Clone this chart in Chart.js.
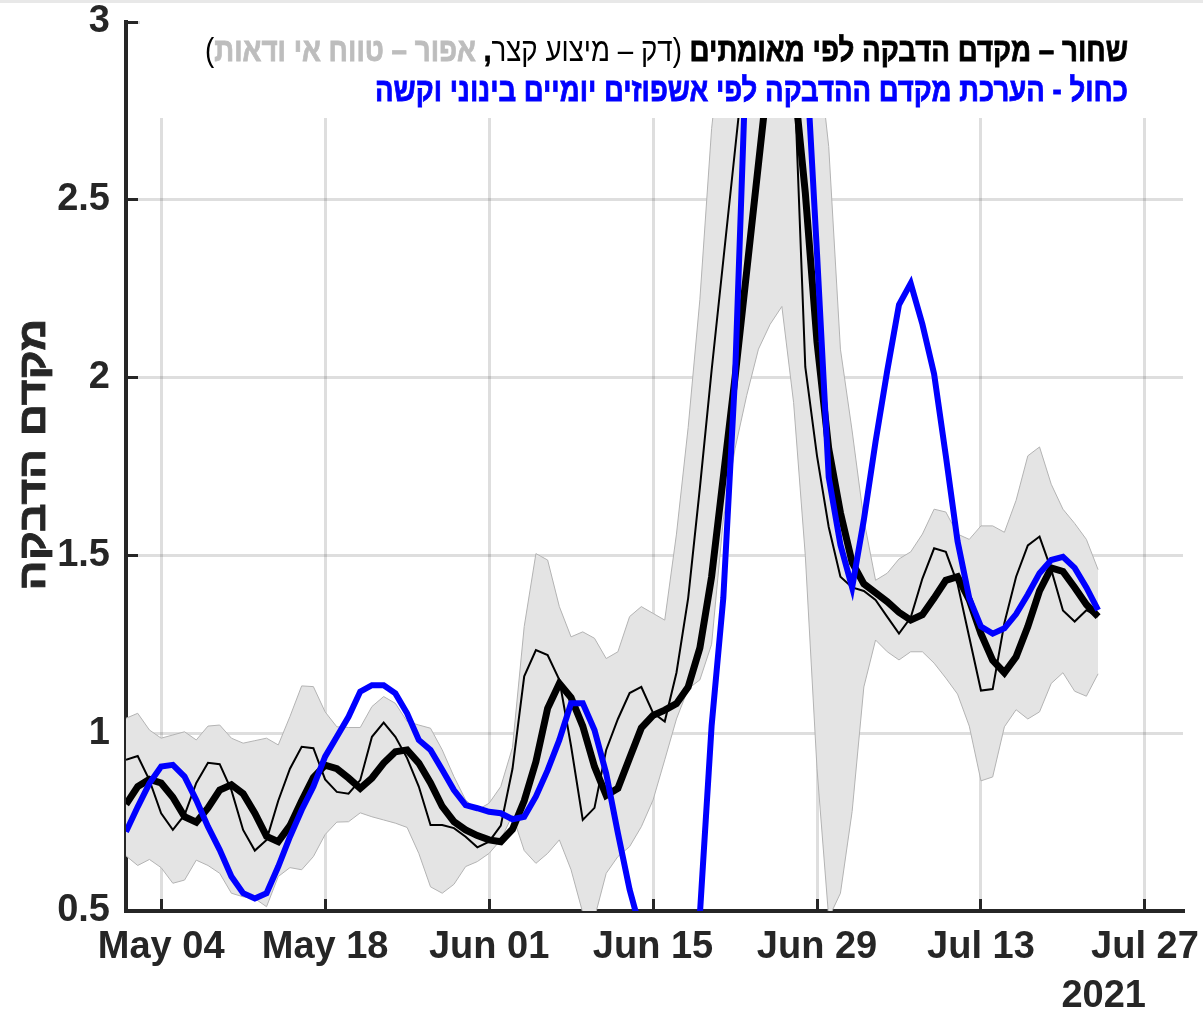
<!DOCTYPE html>
<html>
<head>
<meta charset="utf-8">
<script src="https://cdn.jsdelivr.net/npm/chart.js@4.4.1/dist/chart.umd.min.js"></script>
<style>
html,body{margin:0;padding:0;background:#fff;}
#wrap{width:1203px;height:1016px;position:relative;}
canvas{display:block;}
</style>
</head>
<body>
<div id="wrap"><canvas id="c" width="1203" height="1016"></canvas></div>
<script>
// day 0 = 2021-05-01, one value per day up to 2021-07-23
const startDate = '2021-05-01';

// thick black: R by confirmed cases
const rCases = [0.80,0.85,0.87,0.86,0.82,0.765,0.75,0.79,0.84,0.855,
  0.83,0.775,0.71,0.695,0.74,0.81,0.875,0.91,0.90,0.874,
  0.845,0.874,0.916,0.948,0.953,0.916,0.86,0.794,0.751,0.728,
  0.712,0.70,0.695,0.73,0.81,0.92,1.07,1.14,1.10,1.02,
  0.906,0.825,0.845,0.93,1.015,1.05,1.065,1.083,1.13,1.24,
  1.44,1.72,2.0,2.3,2.6,2.9,3.05,2.85,2.52,2.1,
  1.80,1.62,1.48,1.42,1.395,1.37,1.34,1.318,1.333,1.38,
  1.43,1.44,1.375,1.28,1.205,1.17,1.215,1.30,1.40,1.465,
  1.455,1.41,1.362,1.328];

// thin black: short smoothing
const rCasesShort = [0.925,0.936,0.868,0.775,0.728,0.77,0.86,0.917,0.913,0.84,
  0.728,0.67,0.70,0.81,0.90,0.962,0.958,0.87,0.835,0.83,
  0.868,0.99,1.03,0.99,0.93,0.85,0.742,0.742,0.733,0.709,
  0.679,0.695,0.74,0.90,1.16,1.234,1.22,1.15,0.964,0.756,
  0.79,0.953,1.04,1.113,1.13,1.057,1.033,1.17,1.38,1.69,
  2.02,2.33,2.64,2.95,3.2,3.3,3.2,2.9,2.03,1.78,
  1.58,1.44,1.41,1.40,1.375,1.327,1.28,1.325,1.435,1.52,
  1.51,1.42,1.27,1.12,1.124,1.31,1.44,1.528,1.553,1.46,
  1.345,1.314,1.346,1.328];

// gray band: uncertainty range
const ciUpper = [1.042,1.056,1.009,0.986,0.995,1.004,0.981,1.02,1.023,0.986,
  0.972,0.979,0.986,0.967,1.047,1.133,1.131,1.06,1.018,1.016,
  1.016,1.075,1.103,1.084,1.033,1.023,1.014,0.953,0.878,0.812,
  0.784,0.803,0.85,0.96,1.30,1.505,1.487,1.356,1.271,1.285,
  1.267,1.21,1.229,1.328,1.356,1.337,1.318,1.56,1.86,2.22,
  2.7,3.0,3.2,3.3,3.4,3.5,3.5,3.4,3.2,2.95,
  2.65,2.08,1.85,1.6,1.43,1.45,1.49,1.51,1.56,1.63,
  1.622,1.56,1.545,1.583,1.583,1.565,1.655,1.78,1.805,1.70,
  1.63,1.59,1.545,1.46];
const ciLower = [0.655,0.628,0.645,0.622,0.578,0.587,0.643,0.628,0.606,0.55,
  0.54,0.535,0.512,0.597,0.622,0.616,0.653,0.715,0.75,0.751,
  0.776,0.765,0.756,0.747,0.735,0.662,0.568,0.55,0.575,0.625,
  0.639,0.662,0.70,0.77,0.67,0.634,0.662,0.70,0.616,0.495,
  0.48,0.606,0.653,0.681,0.737,0.812,0.925,1.04,1.125,1.15,
  1.25,1.6,1.80,1.95,2.08,2.15,2.2,1.93,1.50,0.9,
  0.48,0.55,0.78,1.13,1.262,1.229,1.206,1.229,1.229,1.197,
  1.155,1.11,1.02,0.866,0.877,1.018,1.066,1.04,1.06,1.14,
  1.17,1.118,1.104,1.167];

// blue: R by moderate + severe hospitalizations
const rHosp = [0.723,0.793,0.859,0.906,0.911,0.878,0.812,0.737,0.672,0.597,
  0.55,0.535,0.55,0.625,0.709,0.784,0.85,0.934,0.99,1.046,
  1.117,1.135,1.135,1.112,1.056,0.981,0.953,0.897,0.84,0.798,
  0.789,0.779,0.775,0.758,0.765,0.822,0.896,0.981,1.084,1.084,
  1.009,0.887,0.719,0.56,0.44,0.25,0.12,0.08,0.2,0.49,
  1.02,1.38,2.0,2.95,3.5,3.8,3.7,3.4,2.95,2.35,
  1.72,1.53,1.41,1.60,1.82,2.02,2.205,2.265,2.15,2.01,
  1.78,1.54,1.38,1.30,1.28,1.295,1.335,1.39,1.45,1.487,
  1.496,1.465,1.41,1.346];

const tickDays = [3,17,31,45,59,73,87];
const tickLabels = ['May 04','May 18','Jun 01','Jun 15','Jun 29','Jul 13','Jul 27'];
const yTickValues = [0.5,1,1.5,2,2.5,3];
const yTickLabels = ['0.5','1','1.5','2','2.5','3'];
const yearLabel = '2021';
const yTitle = 'מקדם הדבקה';
const legendLine1 = [
  {text:'שחור – מקדם הדבקה לפי מאומתים ', bold:true, color:'#000000'},
  {text:'(דק – מיצוע קצר', bold:false, color:'#000000'},
  {text:', ', bold:true, color:'#000000'},
  {text:'אפור – טווח אי ודאות', bold:true, color:'#bdbdbd'},
  {text:')', bold:false, color:'#000000'}
];
const legendLine2 = [
  {text:'כחול - הערכת מקדם ההדבקה לפי אשפוזים יומיים בינוני וקשה', bold:true, color:'#0000ff'}
];

// day offsets (category positions)
const days = rCases.map((_, i) => i);
const toPts = arr => arr.map((v, i) => ({x: days[i], y: v}));

const AX = '#262626';
const HEB = '"Liberation Sans", "DejaVu Sans", sans-serif';
const LAT = '"Liberation Sans", Arial, sans-serif';

function drawRtl(ctx, segs, rightX, baseY, targetW, size){
  ctx.save();
  ctx.direction = 'rtl';
  ctx.textAlign = 'right';
  ctx.textBaseline = 'alphabetic';
  const widths = [];
  let total = 0;
  segs.forEach(s => {
    ctx.font = (s.bold ? 'bold ' : '') + size + 'px ' + HEB;
    const w = ctx.measureText(s.text).width;
    widths.push(w); total += w;
  });
  const sx = targetW / total;
  ctx.translate(rightX, baseY);
  ctx.scale(sx, 1);
  let x = 0;
  segs.forEach((s, i) => {
    ctx.font = (s.bold ? 'bold ' : '') + size + 'px ' + HEB;
    ctx.fillStyle = s.color;
    ctx.fillText(s.text, x, 0);
    if (s.bold) {
      ctx.strokeStyle = s.color;
      ctx.lineWidth = 0.8;
      ctx.strokeText(s.text, x, 0);
    }
    x -= widths[i];
  });
  ctx.restore();
}

const overlay = {
  id: 'overlay',
  afterDraw(chart){
    const ctx = chart.ctx, a = chart.chartArea;
    const xs = chart.scales.x;
    ctx.save();
    // faint figure edge at the very top
    ctx.fillStyle = '#e8e8e8';
    ctx.fillRect(0, 0, chart.width, 3);
    // white title box inside plot
    ctx.fillStyle = '#ffffff';
    ctx.fillRect(a.left + 14, a.top - 3, a.right - a.left - 12, 118 - (a.top - 3));
    drawRtl(ctx, legendLine1, 1128, 61, 923, 33);
    drawRtl(ctx, legendLine2, 1128, 101, 753, 33);
    // year under last tick
    ctx.direction = 'ltr';
    ctx.font = 'bold 38px ' + LAT;
    ctx.fillStyle = AX;
    ctx.textAlign = 'right';
    ctx.textBaseline = 'alphabetic';
    ctx.fillText(yearLabel, xs.getPixelForValue(tickDays[tickDays.length-1]) + 1, 1007);
    // y axis title
    ctx.save();
    ctx.translate(45, (a.top + a.bottom) / 2 - 12);
    ctx.rotate(-Math.PI / 2);
    ctx.direction = 'rtl';
    ctx.font = 'bold 38px ' + HEB;
    const w = ctx.measureText(yTitle).width;
    ctx.scale(272 / w, 1);
    ctx.textAlign = 'center';
    ctx.fillStyle = AX;
    ctx.fillText(yTitle, 0, 0);
    ctx.strokeStyle = AX;
    ctx.lineWidth = 0.8;
    ctx.strokeText(yTitle, 0, 0);
    ctx.restore();
    ctx.restore();
  }
};

const gridOpts = {
  color: 'rgba(0,0,0,0.13)',
  lineWidth: 3,
  drawTicks: true,
  tickLength: -12,
  tickColor: AX,
  tickWidth: 3
};

new Chart(document.getElementById('c').getContext('2d'), {
  type: 'line',
  data: {
    datasets: [
      {label:'hosp', data: toPts(rHosp), borderColor:'#0000ff', borderWidth:6, pointRadius:0, fill:false, order:0},
      {label:'cases', data: toPts(rCases), borderColor:'#000000', borderWidth:7, pointRadius:0, fill:false, order:1},
      {label:'short', data: toPts(rCasesShort), borderColor:'#000000', borderWidth:2, pointRadius:0, fill:false, order:2},
      {label:'lower', data: toPts(ciLower), borderColor:'#b3b3b3', borderWidth:1, pointRadius:0, fill:false, order:3},
      {label:'upper', data: toPts(ciUpper), borderColor:'#b3b3b3', borderWidth:1, pointRadius:0,
        backgroundColor:'#e4e4e4', fill:3, order:4}
    ]
  },
  options: {
    responsive: false,
    animation: false,
    devicePixelRatio: 1,
    layout: {padding: {top: 22, right: 20, left: 0, bottom: 0}},
    elements: {line: {tension: 0, borderJoinStyle: 'miter'}, point: {radius: 0}},
    plugins: {legend: {display: false}, tooltip: {enabled: false}, filler: {propagate: false}},
    scales: {
      x: {
        type: 'linear', min: 0, max: 90.25, z: 1,
        afterBuildTicks: s => { s.ticks = tickDays.map(v => ({value: v})); },
        afterFit: s => { s.height = 105; s.paddingLeft = 0; s.paddingRight = 0; },
        ticks: {
          autoSkip: false, maxRotation: 0, minRotation: 0, padding: 26, color: AX,
          font: {family: LAT, weight: 'bold', size: 38},
          callback: v => tickLabels[tickDays.indexOf(v)]
        },
        grid: gridOpts,
        border: {color: AX, width: 4}
      },
      y: {
        type: 'linear', min: 0.5, max: 3, z: 1,
        afterBuildTicks: s => { s.ticks = yTickValues.map(v => ({value: v})); },
        afterFit: s => { s.width = 126; s.paddingTop = 0; s.paddingBottom = 0; },
        ticks: {
          padding: 28, color: AX,
          font: {family: LAT, weight: 'bold', size: 38, lineHeight: 1},
          callback: v => yTickLabels[yTickValues.indexOf(v)]
        },
        grid: gridOpts,
        border: {color: AX, width: 4}
      }
    }
  },
  plugins: [overlay]
});
</script>
</body>
</html>
